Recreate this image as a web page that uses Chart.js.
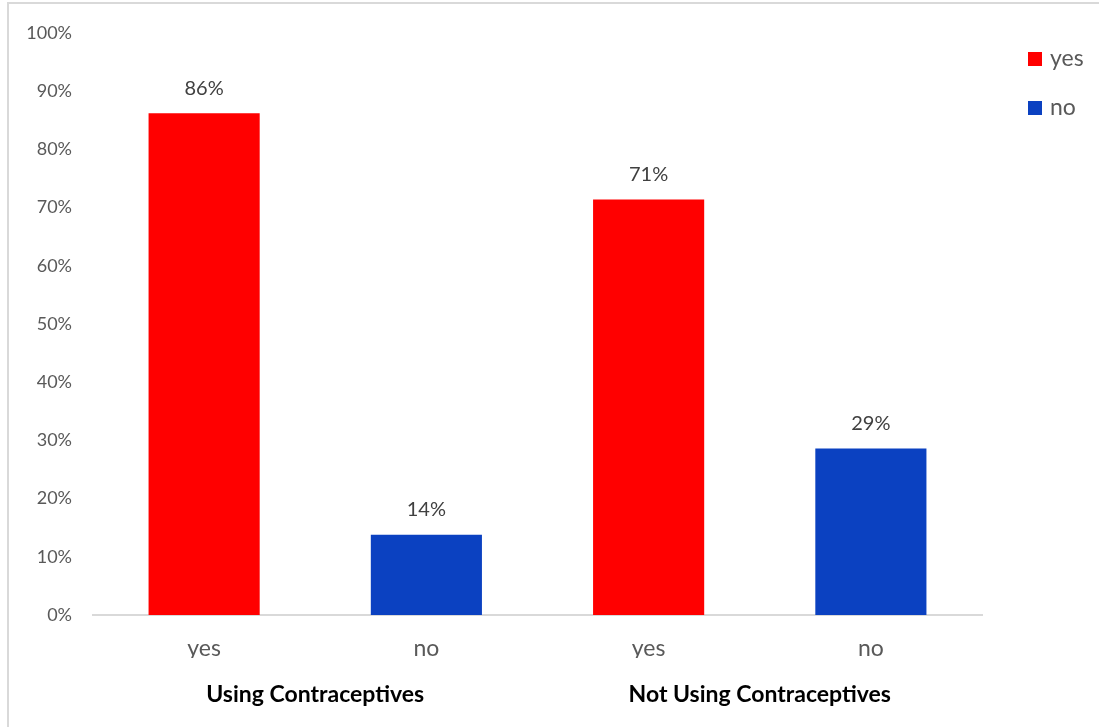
<!DOCTYPE html>
<html>
<head>
<meta charset="utf-8">
<script src="https://cdn.jsdelivr.net/npm/chart.js@4"></script>
<style>
  html, body { margin: 0; padding: 0; background: #fff; }
  #wrap { position: relative; width: 1099px; height: 727px; }
  #frame { position: absolute; left: 7px; top: 2px; width: 1200px; height: 800px;
           border-left: 2px solid #d9d9d9; border-top: 2px solid #d9d9d9; }
  canvas { position: absolute; left: 0; top: 0; }
</style>
</head>
<body>
<div id="wrap">
  <div id="frame"></div>
  <canvas id="chart" width="1099" height="727"></canvas>
</div>
<script>
// Données
const categories = ["yes", "no", "yes", "no"];
const groups = ["Using Contraceptives", "Not Using Contraceptives"];
const yesValues = [86.2, null, 71.4, null];
const noValues = [null, 13.8, null, 28.6];
const yTicks = [0, 10, 20, 30, 40, 50, 60, 70, 80, 90, 100];

const FONT = "Lato, 'Open Sans', sans-serif";

// Étiquettes de valeur au-dessus des barres
const valueLabels = {
  id: "valueLabels",
  afterDatasetsDraw(chart) {
    const ctx = chart.ctx;
    ctx.save();
    ctx.font = "20px " + FONT;
    ctx.fillStyle = "#404040";
    ctx.textAlign = "center";
    ctx.textBaseline = "middle";
    chart.data.datasets.forEach((ds, i) => {
      chart.getDatasetMeta(i).data.forEach((bar, j) => {
        if (ds.data[j] == null) return;
        ctx.fillText(Math.round(ds.data[j]) + "%", bar.x, bar.y - 25);
      });
    });
    ctx.restore();
  }
};

// Légende à droite
const sideLegend = {
  id: "sideLegend",
  afterDraw(chart) {
    const ctx = chart.ctx;
    const x = chart.chartArea.right + 46;
    let y = chart.chartArea.top + 26;
    ctx.save();
    ctx.font = "23px " + FONT;
    ctx.textBaseline = "middle";
    chart.data.datasets.forEach(ds => {
      ctx.fillStyle = ds.backgroundColor;
      ctx.fillRect(x, y - 7, 14, 14);
      ctx.fillStyle = "#595959";
      ctx.fillText(ds.label, x + 22, y);
      y += 49;
    });
    ctx.restore();
  }
};

new Chart(document.getElementById("chart"), {
  type: "bar",
  data: {
    labels: categories,
    datasets: [
      { label: "yes", data: yesValues, backgroundColor: "#ff0000" },
      { label: "no", data: noValues, backgroundColor: "#0b41c1" }
    ]
  },
  options: {
    responsive: false,
    animation: false,
    layout: { padding: { left: 0, right: 117, top: 33, bottom: 18 } },
    datasets: { bar: { barPercentage: 0.5, categoryPercentage: 1 } },
    plugins: {
      legend: { display: false },
      tooltip: { enabled: false }
    },
    scales: {
      x: {
        stacked: true,
        afterFit: axis => { axis.height = 43; },
        grid: { display: false, drawTicks: false },
        border: { display: true, color: "#d9d9d9", width: 2 },
        ticks: { color: "#595959", font: { family: FONT, size: 23 }, padding: 20, maxRotation: 0 }
      },
      x2: {
        type: "category",
        labels: groups,
        position: "bottom",
        afterFit: axis => { axis.height = 51; },
        grid: { display: false, drawTicks: false },
        border: { display: false },
        ticks: { color: "#000", font: { family: FONT, size: 23, weight: "bold" }, padding: 23, maxRotation: 0 }
      },
      y: {
        stacked: true,
        min: 0,
        max: 100,
        afterBuildTicks: axis => { axis.ticks = yTicks.map(v => ({ value: v })); },
        afterFit: axis => { axis.width = 93; },
        grid: { display: false, drawTicks: false },
        border: { display: false },
        ticks: {
          color: "#595959",
          font: { family: FONT, size: 18 },
          padding: 21,
          callback: v => v + "%"
        }
      }
    }
  },
  plugins: [valueLabels, sideLegend]
});
</script>
</body>
</html>
